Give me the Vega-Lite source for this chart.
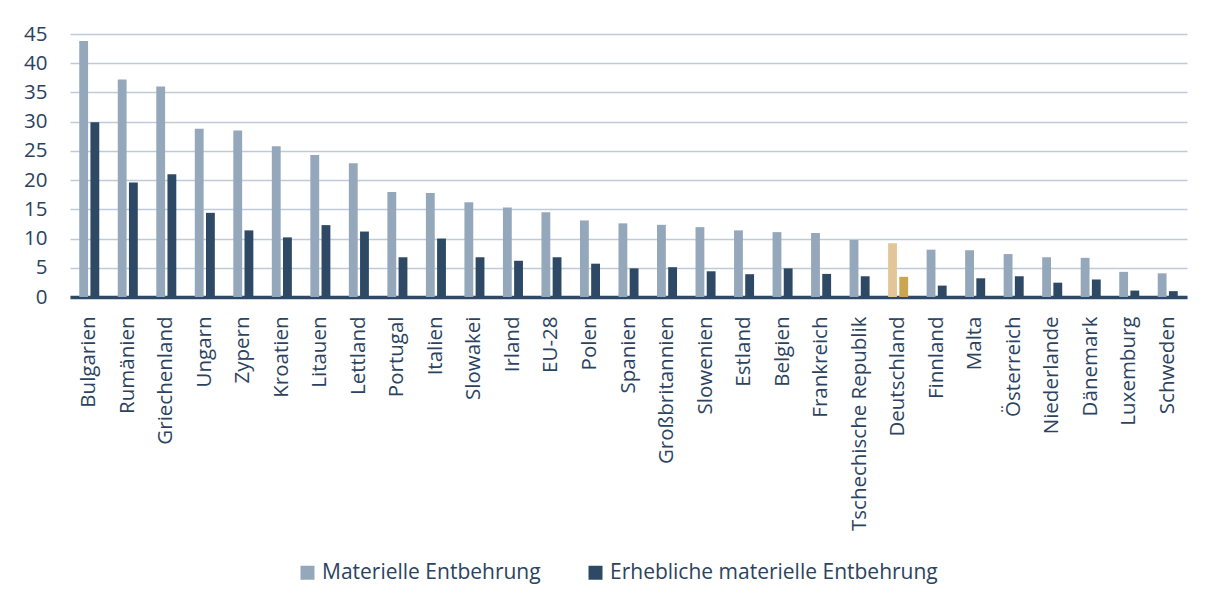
{
  "$schema": "https://vega.github.io/schema/vega-lite/v6.json",
  "width": 1117,
  "height": 263,
  "autosize": {"type": "none"},
  "padding": {"left": 70, "top": 34, "right": 21, "bottom": 308},
  "background": "#ffffff",
  "config": {
    "view": {"stroke": null},
    "font": "Open Sans",
    "axis": {"labelFont": "Open Sans", "labelColor": "#2B4360"},
    "legend": {"labelFont": "Open Sans", "labelColor": "#2B4360"}
  },
  "data": {
    "values": [
      {"country": "Bulgarien", "series": "Materielle Entbehrung", "value": 43.8},
      {"country": "Bulgarien", "series": "Erhebliche materielle Entbehrung", "value": 29.9},
      {"country": "Rumänien", "series": "Materielle Entbehrung", "value": 37.2},
      {"country": "Rumänien", "series": "Erhebliche materielle Entbehrung", "value": 19.6},
      {"country": "Griechenland", "series": "Materielle Entbehrung", "value": 36.0},
      {"country": "Griechenland", "series": "Erhebliche materielle Entbehrung", "value": 21.0},
      {"country": "Ungarn", "series": "Materielle Entbehrung", "value": 28.8},
      {"country": "Ungarn", "series": "Erhebliche materielle Entbehrung", "value": 14.4},
      {"country": "Zypern", "series": "Materielle Entbehrung", "value": 28.5},
      {"country": "Zypern", "series": "Erhebliche materielle Entbehrung", "value": 11.4},
      {"country": "Kroatien", "series": "Materielle Entbehrung", "value": 25.8},
      {"country": "Kroatien", "series": "Erhebliche materielle Entbehrung", "value": 10.2},
      {"country": "Litauen", "series": "Materielle Entbehrung", "value": 24.3},
      {"country": "Litauen", "series": "Erhebliche materielle Entbehrung", "value": 12.3},
      {"country": "Lettland", "series": "Materielle Entbehrung", "value": 22.9},
      {"country": "Lettland", "series": "Erhebliche materielle Entbehrung", "value": 11.2},
      {"country": "Portugal", "series": "Materielle Entbehrung", "value": 17.95},
      {"country": "Portugal", "series": "Erhebliche materielle Entbehrung", "value": 6.8},
      {"country": "Italien", "series": "Materielle Entbehrung", "value": 17.8},
      {"country": "Italien", "series": "Erhebliche materielle Entbehrung", "value": 10.0},
      {"country": "Slowakei", "series": "Materielle Entbehrung", "value": 16.2},
      {"country": "Slowakei", "series": "Erhebliche materielle Entbehrung", "value": 6.8},
      {"country": "Irland", "series": "Materielle Entbehrung", "value": 15.3},
      {"country": "Irland", "series": "Erhebliche materielle Entbehrung", "value": 6.2},
      {"country": "EU-28", "series": "Materielle Entbehrung", "value": 14.5},
      {"country": "EU-28", "series": "Erhebliche materielle Entbehrung", "value": 6.8},
      {"country": "Polen", "series": "Materielle Entbehrung", "value": 13.1},
      {"country": "Polen", "series": "Erhebliche materielle Entbehrung", "value": 5.7},
      {"country": "Spanien", "series": "Materielle Entbehrung", "value": 12.6},
      {"country": "Spanien", "series": "Erhebliche materielle Entbehrung", "value": 4.9},
      {"country": "Großbritannien", "series": "Materielle Entbehrung", "value": 12.35},
      {"country": "Großbritannien", "series": "Erhebliche materielle Entbehrung", "value": 5.1},
      {"country": "Slowenien", "series": "Materielle Entbehrung", "value": 11.95},
      {"country": "Slowenien", "series": "Erhebliche materielle Entbehrung", "value": 4.4},
      {"country": "Estland", "series": "Materielle Entbehrung", "value": 11.4},
      {"country": "Estland", "series": "Erhebliche materielle Entbehrung", "value": 3.9},
      {"country": "Belgien", "series": "Materielle Entbehrung", "value": 11.1},
      {"country": "Belgien", "series": "Erhebliche materielle Entbehrung", "value": 4.9},
      {"country": "Frankreich", "series": "Materielle Entbehrung", "value": 10.95},
      {"country": "Frankreich", "series": "Erhebliche materielle Entbehrung", "value": 3.95},
      {"country": "Tschechische Republik", "series": "Materielle Entbehrung", "value": 9.75},
      {"country": "Tschechische Republik", "series": "Erhebliche materielle Entbehrung", "value": 3.55},
      {"country": "Deutschland", "series": "Materielle Entbehrung", "value": 9.2},
      {"country": "Deutschland", "series": "Erhebliche materielle Entbehrung", "value": 3.45},
      {"country": "Finnland", "series": "Materielle Entbehrung", "value": 8.1},
      {"country": "Finnland", "series": "Erhebliche materielle Entbehrung", "value": 1.95},
      {"country": "Malta", "series": "Materielle Entbehrung", "value": 8.0},
      {"country": "Malta", "series": "Erhebliche materielle Entbehrung", "value": 3.2},
      {"country": "Österreich", "series": "Materielle Entbehrung", "value": 7.35},
      {"country": "Österreich", "series": "Erhebliche materielle Entbehrung", "value": 3.55},
      {"country": "Niederlande", "series": "Materielle Entbehrung", "value": 6.8},
      {"country": "Niederlande", "series": "Erhebliche materielle Entbehrung", "value": 2.45},
      {"country": "Dänemark", "series": "Materielle Entbehrung", "value": 6.7},
      {"country": "Dänemark", "series": "Erhebliche materielle Entbehrung", "value": 3.0},
      {"country": "Luxemburg", "series": "Materielle Entbehrung", "value": 4.3},
      {"country": "Luxemburg", "series": "Erhebliche materielle Entbehrung", "value": 1.1},
      {"country": "Schweden", "series": "Materielle Entbehrung", "value": 4.05},
      {"country": "Schweden", "series": "Erhebliche materielle Entbehrung", "value": 1.0}
    ]
  },
  "mark": {"type": "bar"},
  "encoding": {
    "x": {
      "field": "country",
      "type": "nominal",
      "sort": null,
      "scale": {"paddingInner": 0.48, "paddingOuter": 0.24},
      "axis": {
        "title": null,
        "labelAngle": -90,
        "labelFontSize": 20.5,
        "labelPadding": 19,
        "ticks": false,
        "domain": true,
        "domainColor": "#2E4965",
        "domainWidth": 3.5,
        "grid": false,
        "labelLimit": 400
      }
    },
    "xOffset": {
      "field": "series",
      "type": "nominal",
      "sort": ["Materielle Entbehrung", "Erhebliche materielle Entbehrung"],
      "scale": {"paddingInner": 0.21, "paddingOuter": 0}
    },
    "y": {
      "field": "value",
      "type": "quantitative",
      "scale": {"domain": [0, 45], "nice": false},
      "axis": {
        "title": null,
        "values": [0, 5, 10, 15, 20, 25, 30, 35, 40, 45],
        "labelFontSize": 20.5,
        "labelPadding": 23,
        "ticks": false,
        "domain": false,
        "grid": true,
        "gridColor": "#BFCBD8",
        "gridWidth": 1.5
      }
    },
    "color": {
      "condition": [
        {"test": "datum.country === 'Deutschland' && datum.series === 'Materielle Entbehrung'", "value": "#E2C697"},
        {"test": "datum.country === 'Deutschland' && datum.series === 'Erhebliche materielle Entbehrung'", "value": "#CAA552"}
      ],
      "field": "series",
      "type": "nominal",
      "scale": {
        "domain": ["Materielle Entbehrung", "Erhebliche materielle Entbehrung"],
        "range": ["#95A8BB", "#2E4965"]
      },
      "legend": {
        "title": null,
        "orient": "none",
        "direction": "horizontal",
        "legendX": 227,
        "legendY": 528,
        "symbolType": "square",
        "symbolSize": 196,
        "symbolStrokeWidth": 0,
        "labelFontSize": 21,
        "labelOffset": 4,
        "columnPadding": 44,
        "labelLimit": 500
      }
    }
  }
}
